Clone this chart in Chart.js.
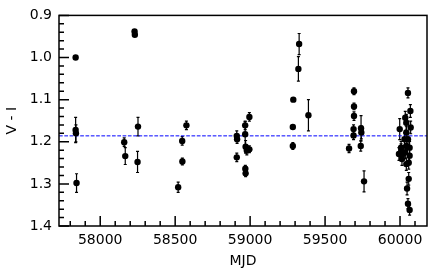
<!DOCTYPE html>
<html><head><meta charset="utf-8">
<script src="https://cdn.jsdelivr.net/npm/chart.js@4.4.0/dist/chart.umd.min.js"></script>
<style>html,body{margin:0;padding:0;background:#fff;}#wrap{width:436px;height:272px;}</style>
</head><body><div id="wrap"><canvas id="c" width="436" height="272"></canvas></div>
<script>
const mjd = [57836,57836,57838,57842,
  58160,58167,58229,58231,58252,58249,
  58520,58547,58548,58575,
  58911,58913,58911,58967,58967,58970,58978,58995,58995,58968,58970,
  59285,59288,59322,59327,59389,59285,
  59693,59693,59693,59690,59690,59740,59742,59660,59738,59760,
  60053,60069,60035,60042,60071,59998,60042,60053,60007,60042,60064,60007,60035,60064,60013,60042,60058,60058,60047,60053,60064,59993,60030,60020];
const vi = [1.000,1.172,1.180,1.298,
  1.201,1.234,0.938,0.946,1.164,1.248,
  1.308,1.198,1.247,1.161,
  1.186,1.194,1.237,1.161,1.182,1.212,1.221,1.218,1.141,1.264,1.275,
  1.165,1.100,1.027,0.968,1.137,1.210,
  1.080,1.116,1.139,1.170,1.185,1.168,1.178,1.216,1.210,1.294,
  1.084,1.127,1.143,1.155,1.166,1.170,1.178,1.194,1.214,1.210,1.214,1.225,1.225,1.233,1.241,1.253,1.250,1.288,1.311,1.347,1.362,1.229,1.194,1.229];
const viErr = [0.004,0.030,0.020,0.022,
  0.010,0.020,0.004,0.004,0.022,0.025,
  0.012,0.010,0.008,0.010,
  0.012,0.010,0.010,0.010,0.030,0.015,0.010,0.008,0.010,0.008,0.008,
  0.004,0.004,0.029,0.025,0.037,0.008,
  0.008,0.008,0.010,0.010,0.010,0.030,0.015,0.010,0.012,0.025,
  0.012,0.015,0.015,0.020,0.015,0.025,0.015,0.015,0.015,0.015,0.015,0.020,0.015,0.015,0.015,0.015,0.015,0.015,0.015,0.012,0.012,0.015,0.015,0.012];
const meanVI = 1.186;
const xTicks = [58000,58500,59000,59500,60000];
const yTicks = [0.9,1.0,1.1,1.2,1.3,1.4];
const xRange = [57725,60180];
const yRange = [0.9,1.4];

const FONT = {family:'DejaVu Sans', size:14};

const decor = {
  id:'decor',
  beforeDatasetsDraw(chart){
    const {ctx, scales:{x,y}} = chart;
    ctx.save();
    ctx.strokeStyle='#000'; ctx.lineWidth=1.2;
    for(let i=0;i<mjd.length;i++){
      const px = x.getPixelForValue(mjd[i]);
      const y1 = y.getPixelForValue(vi[i]-viErr[i]);
      const y2 = y.getPixelForValue(vi[i]+viErr[i]);
      ctx.beginPath();
      ctx.moveTo(px,y1); ctx.lineTo(px,y2);
      ctx.moveTo(px-1.5,y1); ctx.lineTo(px+1.5,y1);
      ctx.moveTo(px-1.5,y2); ctx.lineTo(px+1.5,y2);
      ctx.stroke();
    }
    ctx.restore();
  },
  afterDraw(chart){
    const {ctx, chartArea:a, scales:{x,y}} = chart;
    ctx.save();
    ctx.strokeStyle='#000'; ctx.lineWidth=1.5;
    ctx.strokeRect(a.left,a.top,a.right-a.left,a.bottom-a.top);
    ctx.beginPath();
    for(let v=Math.ceil(xRange[0]/100)*100; v<=xRange[1]; v+=100){
      const px = x.getPixelForValue(v);
      const len = (v%500===0)?10:5;
      ctx.moveTo(px,a.bottom); ctx.lineTo(px,a.bottom-len);
    }
    for(let k=0;k<=25;k++){
      const v = yRange[0]+k*0.02;
      const py = y.getPixelForValue(v);
      const len = (k%5===0)?10:5;
      ctx.moveTo(a.left,py); ctx.lineTo(a.left+len,py);
    }
    ctx.stroke();
    ctx.restore();
  }
};

new Chart(document.getElementById('c'),{
  data:{datasets:[
    {type:'line', data:[{x:xRange[0],y:meanVI},{x:xRange[1],y:meanVI}], borderColor:'#0000ff', borderWidth:1, borderDash:[3.7,1.6], pointRadius:0, order:2},
    {type:'scatter', data:mjd.map((m,i)=>({x:m,y:vi[i]})), backgroundColor:'#000', borderWidth:0, pointRadius:3.2, order:1}
  ]},
  options:{
    responsive:false, animation:false, devicePixelRatio:1,
    layout:{padding:{top:13,right:9,left:0,bottom:0}},
    plugins:{legend:{display:false}, tooltip:{enabled:false}},
    scales:{
      x:{type:'linear', min:xRange[0], max:xRange[1],
        afterBuildTicks:s=>{s.ticks=xTicks.map(v=>({value:v}));},
        afterFit:s=>{s.height=46;},
        grid:{display:false, drawTicks:false}, border:{display:false},
        ticks:{color:'#000', font:FONT, padding:6, maxRotation:0, callback:v=>String(v)},
        title:{display:true, text:'MJD', color:'#000', font:FONT, padding:{top:0,bottom:2}}
      },
      y:{type:'linear', reverse:true, min:yRange[0], max:yRange[1],
        afterBuildTicks:s=>{s.ticks=yTicks.map(v=>({value:v}));},
        afterFit:s=>{s.width=59;},
        grid:{display:false, drawTicks:false}, border:{display:false},
        ticks:{color:'#000', font:FONT, padding:7, callback:v=>Number(v).toFixed(1)},
        title:{display:true, text:'V - I', color:'#000', font:FONT, padding:{top:4,bottom:0}}
      }
    }
  },
  plugins:[decor]
});
</script></body></html>
